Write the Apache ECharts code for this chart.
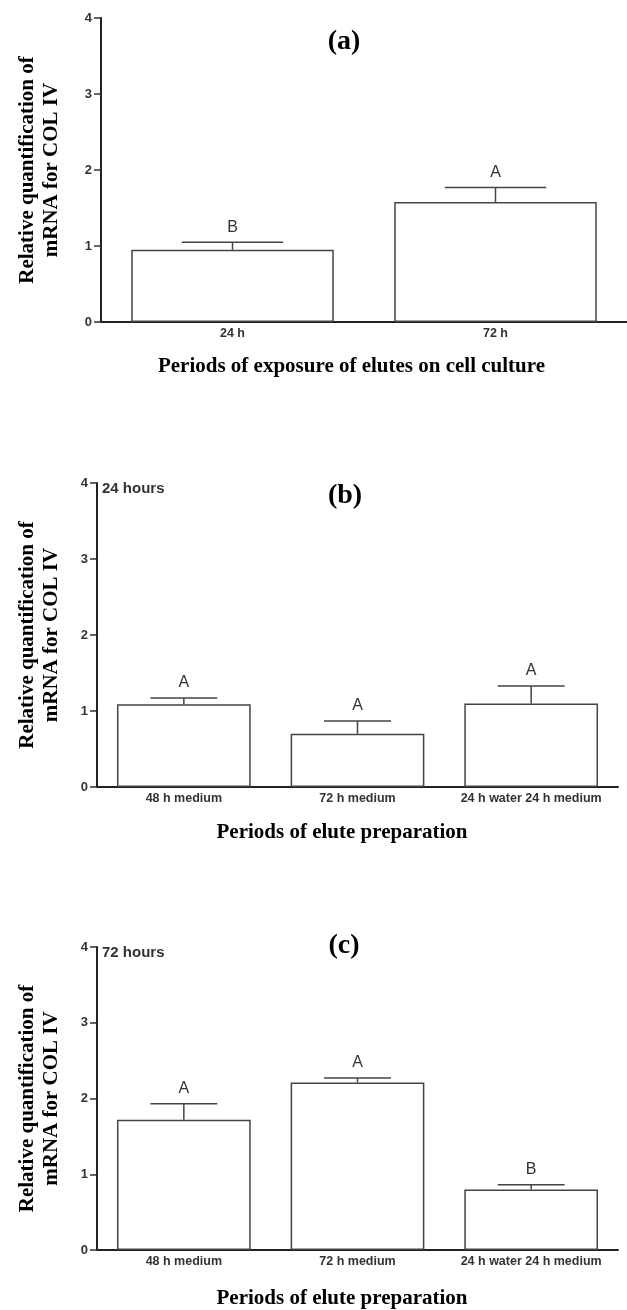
<!DOCTYPE html>
<html>
<head>
<meta charset="utf-8">
<script src="https://cdn.jsdelivr.net/npm/echarts@6/dist/echarts.min.js"></script>
<style>
html,body{margin:0;padding:0;background:#fff;}
#chart{width:627px;height:1310px;}
</style>
</head>
<body>
<div id="chart"></div>
<script>
// ---- data ----
const yTicks = [0, 1, 2, 3, 4];
const catsA = ['24 h', '72 h'];
const meanA = [0.95, 1.58];
const upperA = [1.05, 1.77];
const lettersA = ['B', 'A'];

const catsB = ['48 h medium', '72 h medium', '24 h water 24 h medium'];
const meanB = [1.09, 0.70, 1.10];
const upperB = [1.17, 0.87, 1.33];
const lettersB = ['A', 'A', 'A'];

const catsC = ['48 h medium', '72 h medium', '24 h water 24 h medium'];
const meanC = [1.72, 2.21, 0.80];
const upperC = [1.93, 2.27, 0.86];
const lettersC = ['A', 'A', 'B'];

const panelTitles = ['(a)', '(b)', '(c)'];
const panelNotes = ['', '24 hours', '72 hours'];
const xNames = ['Periods of exposure of elutes on cell culture', 'Periods of elute preparation', 'Periods of elute preparation'];
const yName = 'Relative quantification of\nmRNA for COL IV';

// ---- layout ----
const SERIF = '"Liberation Serif", "Times New Roman", serif';
const SANS = '"Liberation Sans", Arial, sans-serif';
const BAR_FRAC = 0.77;
const grids = [
  {left: 101, right: -9, top: 18, height: 304},
  {left: 97, right: 9, top: 483, height: 304},
  {left: 97, right: 9, top: 947, height: 304}
];
const xNameGap = [34, 35, 38];
const xNamePad = [25, 31, 31];
const yNameGap = [37, 33, 33];
const titlePos = [{x: 344, y: 28}, {x: 345, y: 482}, {x: 344, y: 932}];
const notePos = [null, {x: 102, y: 490}, {x: 102, y: 954}];

const cats = [catsA, catsB, catsC];
const means = [meanA, meanB, meanC];
const uppers = [upperA, upperB, upperC];
const letters = [lettersA, lettersB, lettersC];

function makeRender(lets) {
  return function (params, api) {
    const x = api.value(0), m = api.value(1), u = api.value(2);
    const p0 = api.coord([x, m]);
    const p1 = api.coord([x, u]);
    const band = api.size([1, 0])[0];
    const half = band * BAR_FRAC / 4;
    const st = {stroke: '#444', lineWidth: 1.5};
    return {
      type: 'group',
      children: [
        {type: 'line', shape: {x1: p0[0], y1: p0[1], x2: p1[0], y2: p1[1]}, style: st},
        {type: 'line', shape: {x1: p1[0] - half, y1: p1[1], x2: p1[0] + half, y2: p1[1]}, style: st},
        {type: 'text', style: {text: lets[params.dataIndex], x: p1[0], y: p1[1] - 15,
          align: 'center', verticalAlign: 'middle', font: '16px ' + SANS, fill: '#333'}}
      ]
    };
  };
}

const option = {
  backgroundColor: '#fff',
  animation: false,
  title: panelTitles.map((t, i) => ({
    text: t, left: titlePos[i].x, top: titlePos[i].y, textAlign: 'center', padding: 0,
    textStyle: {fontFamily: SERIF, fontWeight: 'bold', fontSize: 28, color: '#000'}
  })),
  grid: grids,
  xAxis: cats.map((c, i) => ({
    type: 'category', gridIndex: i, data: c,
    name: xNames[i], nameLocation: 'middle', nameGap: xNameGap[i],
    nameTextStyle: {fontFamily: SERIF, fontWeight: 'bold', fontSize: 21, color: '#000', padding: [0, xNamePad[i], 0, 0]},
    axisLine: {lineStyle: {color: '#222', width: 2}},
    axisTick: {show: false},
    axisLabel: {interval: 0, fontFamily: SANS, fontWeight: 'bold', fontSize: 12.5, color: '#333', margin: 5}
  })),
  yAxis: cats.map((c, i) => ({
    type: 'value', gridIndex: i, min: yTicks[0], max: yTicks[yTicks.length - 1], interval: 1,
    name: yName, nameLocation: 'middle', nameRotate: 90, nameGap: yNameGap[i],
    nameTextStyle: {fontFamily: SERIF, fontWeight: 'bold', fontSize: 21, lineHeight: 24, color: '#000'},
    axisLine: {show: true, lineStyle: {color: '#222', width: 2}},
    axisTick: {show: true, length: 7, lineStyle: {color: '#333', width: 1.5}},
    axisLabel: {fontFamily: SANS, fontWeight: 'bold', fontSize: 13, color: '#333', margin: 9},
    splitLine: {show: false}
  })),
  series: [].concat(...cats.map((c, i) => [
    {
      type: 'bar', xAxisIndex: i, yAxisIndex: i, data: means[i],
      barWidth: (BAR_FRAC * 100) + '%',
      itemStyle: {color: '#fff', borderColor: '#444', borderWidth: 1.5}
    },
    {
      type: 'custom', xAxisIndex: i, yAxisIndex: i,
      data: means[i].map((m, j) => [j, m, uppers[i][j]]),
      encode: {x: 0, y: [1, 2]},
      renderItem: makeRender(letters[i]), z: 3
    }
  ])),
  graphic: panelNotes.map((n, i) => n ? {
    type: 'text', left: notePos[i].x, top: notePos[i].y - 9,
    style: {text: n, font: 'bold 15px ' + SANS, fill: '#333'}
  } : null).filter(Boolean)
};

const chart = echarts.init(document.getElementById('chart'), null, {renderer: 'canvas'});
chart.setOption(option);
</script>
</body>
</html>
